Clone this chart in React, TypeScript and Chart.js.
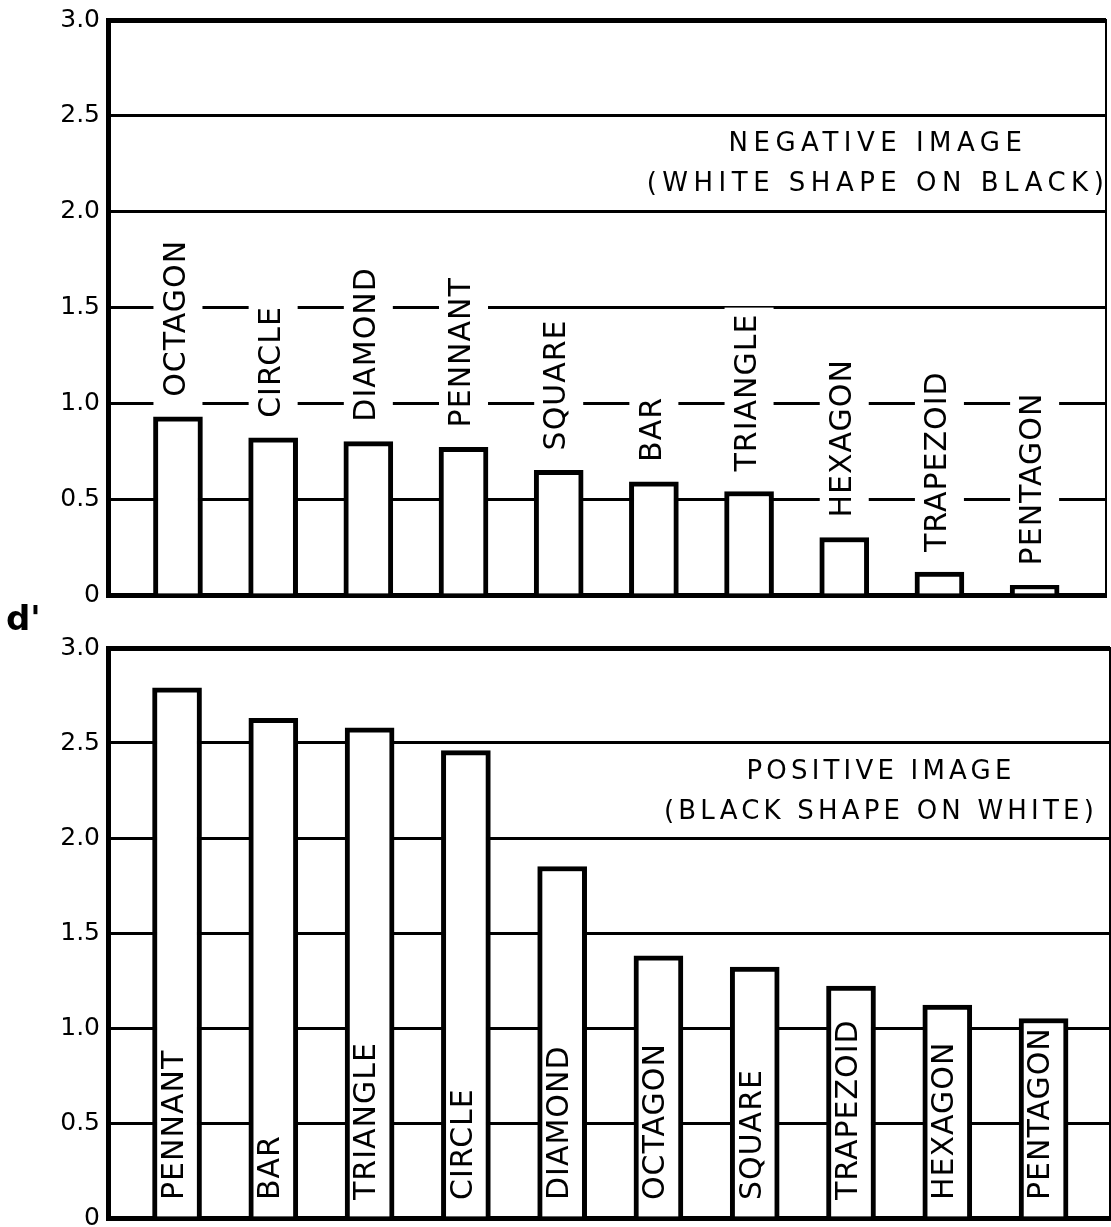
import React, { useEffect, useRef } from 'react';
import { Chart, registerables } from 'chart.js';

Chart.register(...registerables);

// ---------- data ----------
const negativeCategories = ['OCTAGON', 'CIRCLE', 'DIAMOND', 'PENNANT', 'SQUARE', 'BAR', 'TRIANGLE', 'HEXAGON', 'TRAPEZOID', 'PENTAGON'];
const negativeValues = [0.93, 0.82, 0.80, 0.77, 0.65, 0.59, 0.54, 0.30, 0.12, 0.05];

const positiveCategories = ['PENNANT', 'BAR', 'TRIANGLE', 'CIRCLE', 'DIAMOND', 'OCTAGON', 'SQUARE', 'TRAPEZOID', 'HEXAGON', 'PENTAGON'];
const positiveValues = [2.79, 2.63, 2.58, 2.46, 1.85, 1.38, 1.32, 1.22, 1.12, 1.05];

const yTickValues = [0, 0.5, 1.0, 1.5, 2.0, 2.5, 3.0];
const negativeTitle = ['NEGATIVE IMAGE', '(WHITE SHAPE ON BLACK)'];
const positiveTitle = ['POSITIVE IMAGE', '(BLACK SHAPE ON WHITE)'];
const yAxisLabel = "d'";

const FONT = '"DejaVu Sans", sans-serif';

type PanelOpts = {
  categories: string[];
  values: number[];
  title: string[];
  mode: 'above' | 'inside';
  xMin: number;
  xMax: number;
  padding: { top: number; right: number; bottom: number; left: number };
  titleOffset: number;
  titleValue: number;
  titleSpacing: number;
};

function makeLabelPlugin(o: PanelOpts) {
  const drawRotated = (ctx: CanvasRenderingContext2D, text: string, x: number, y: number) => {
    ctx.save();
    ctx.translate(x, y);
    ctx.rotate(-Math.PI / 2);
    ctx.fillStyle = '#000';
    ctx.textBaseline = 'middle';
    ctx.textAlign = 'left';
    ctx.fillText(text, 0, 0);
    ctx.restore();
  };
  return {
    id: 'barLabels',
    beforeDatasetsDraw(chart: any) {
      if (o.mode !== 'above') return;
      const ctx: CanvasRenderingContext2D = chart.ctx;
      const meta = chart.getDatasetMeta(0);
      ctx.save();
      ctx.font = `30px ${FONT}`;
      (ctx as any).letterSpacing = '1px';
      meta.data.forEach((el: any, i: number) => {
        const { x, y, width } = el.getProps(['x', 'y', 'width'], true);
        const text = o.categories[i];
        const tw = ctx.measureText(text).width;
        const start = y - 20;
        const top = start - tw - 6;
        ctx.fillStyle = '#fff';
        ctx.fillRect(x - width / 2, top, width, y - top);
        drawRotated(ctx, text, x - 1, start);
      });
      ctx.restore();
    },
    afterDatasetsDraw(chart: any) {
      const ctx: CanvasRenderingContext2D = chart.ctx;
      const yScale = chart.scales.y;
      if (o.mode === 'inside') {
        const meta = chart.getDatasetMeta(0);
        ctx.save();
        ctx.font = `30px ${FONT}`;
        (ctx as any).letterSpacing = '1px';
        const base = yScale.getPixelForValue(0);
        meta.data.forEach((el: any, i: number) => {
          const { x } = el.getProps(['x'], true);
          drawRotated(ctx, o.categories[i], x - 2, base - 18);
        });
        ctx.restore();
      }
      // panel title
      ctx.save();
      ctx.font = `26px ${FONT}`;
      (ctx as any).letterSpacing = `${o.titleSpacing}px`;
      ctx.fillStyle = '#000';
      ctx.textAlign = 'center';
      ctx.textBaseline = 'middle';
      const cx = chart.chartArea.right - o.titleOffset;
      const cy = yScale.getPixelForValue(o.titleValue);
      ctx.fillText(o.title[0], cx, cy - 20);
      ctx.fillText(o.title[1], cx, cy + 20);
      ctx.restore();
    },
  };
}

function makeConfig(o: PanelOpts): any {
  return {
    type: 'bar',
    data: {
      datasets: [
        {
          data: o.values.map((v, i) => ({ x: i, y: v })),
          backgroundColor: '#fff',
          borderColor: '#000',
          borderWidth: 5,
          borderSkipped: 'start',
          barThickness: 49,
        },
      ],
    },
    options: {
      animation: false,
      responsive: false,
      maintainAspectRatio: false,
      devicePixelRatio: 1,
      layout: { padding: o.padding },
      plugins: { legend: { display: false }, tooltip: { enabled: false } },
      scales: {
        x: {
          type: 'linear',
          min: o.xMin,
          max: o.xMax,
          offset: false,
          ticks: { display: false },
          grid: { display: false, drawTicks: false, offset: false },
          border: { display: true, color: '#000', width: 5 },
          afterFit: (s: any) => {
            s.height = 0;
            s.paddingLeft = 0;
            s.paddingRight = 0;
          },
        },
        y: {
          type: 'linear',
          position: 'left',
          min: 0,
          max: 3,
          afterBuildTicks: (s: any) => {
            s.ticks = yTickValues.map((v) => ({ value: v }));
          },
          ticks: {
            color: '#000',
            padding: 8,
            font: { family: FONT, size: 25 },
            callback: (v: number) => (v === 0 ? '0' : Number(v).toFixed(1)),
          },
          grid: {
            color: '#000',
            drawTicks: false,
            lineWidth: (c: any) => (c.tick && c.tick.value === 3 ? 5 : 3),
          },
          border: { display: true, color: '#000', width: 5 },
          afterFit: (s: any) => {
            s.width = 108;
            s.paddingTop = 0;
            s.paddingBottom = 0;
          },
        },
        y2: {
          type: 'linear',
          position: 'right',
          min: 0,
          max: 3,
          ticks: { display: false },
          grid: { display: false, drawTicks: false },
          border: { display: true, color: '#000', width: 2 },
          afterFit: (s: any) => {
            s.width = 0;
            s.paddingTop = 0;
            s.paddingBottom = 0;
          },
        },
      },
    },
    plugins: [makeLabelPlugin(o)],
  };
}

function Panel({ opts, top, height }: { opts: PanelOpts; top: number; height: number }) {
  const ref = useRef<HTMLCanvasElement | null>(null);
  useEffect(() => {
    if (!ref.current) return;
    const chart = new Chart(ref.current, makeConfig(opts));
    return () => chart.destroy();
  }, []);
  return (
    <canvas
      ref={ref}
      width={1111}
      height={height}
      style={{ position: 'absolute', left: 0, top, width: 1111, height, display: 'block' }}
    />
  );
}

const topOpts: PanelOpts = {
  categories: negativeCategories,
  values: negativeValues,
  title: negativeTitle,
  mode: 'above',
  xMin: -0.735,
  xMax: 9.75,
  padding: { top: 20, right: 5, bottom: 25, left: 0 },
  titleOffset: 228,
  titleValue: 2.25,
  titleSpacing: 5.5,
};

const bottomOpts: PanelOpts = {
  categories: positiveCategories,
  values: positiveValues,
  title: positiveTitle,
  mode: 'inside',
  xMin: -0.717,
  xMax: 9.69,
  padding: { top: 28, right: 1, bottom: 9, left: 0 },
  titleOffset: 229,
  titleValue: 2.24,
  titleSpacing: 4.2,
};

export default function App() {
  return (
    <div
      style={{
        position: 'absolute',
        left: 0,
        top: 0,
        width: 1111,
        height: 1227,
        overflow: 'hidden',
        background: '#fff',
      }}
    >
      <Panel opts={topOpts} top={0} height={620} />
      <Panel opts={bottomOpts} top={620} height={607} />
      <div
        style={{
          position: 'absolute',
          left: 6,
          top: 601,
          fontFamily: FONT,
          fontWeight: 'bold',
          fontSize: 34,
          lineHeight: '34px',
          color: '#000',
        }}
      >
        {yAxisLabel}
      </div>
    </div>
  );
}
